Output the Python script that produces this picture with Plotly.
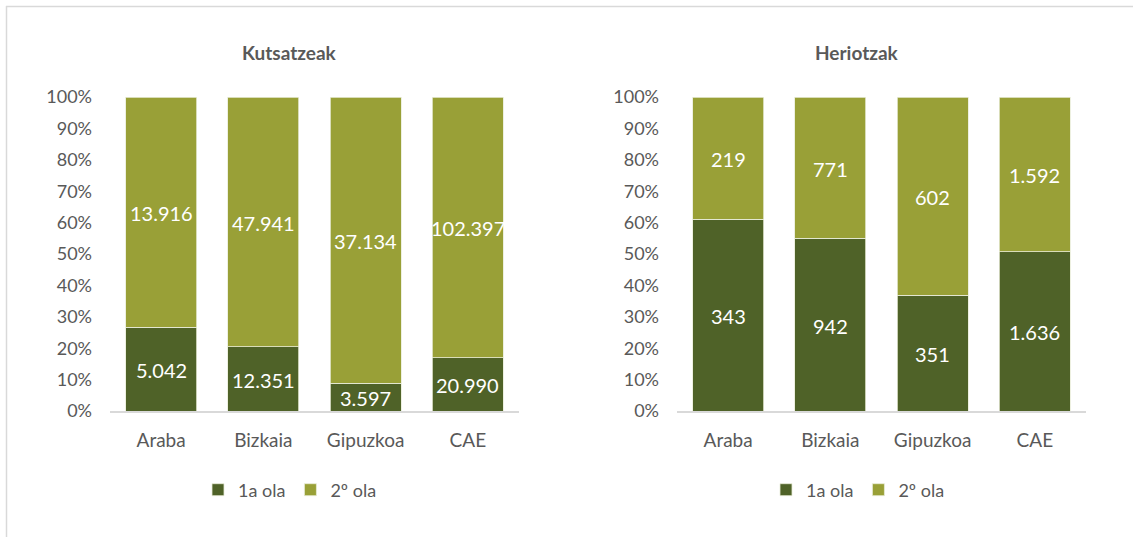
import plotly.graph_objects as go

# Categories and wave values
territories = ["Araba", "Bizkaia", "Gipuzkoa", "CAE"]
cases_wave1 = [5042, 12351, 3597, 20990]
cases_wave2 = [13916, 47941, 37134, 102397]
deaths_wave1 = [343, 942, 351, 1636]
deaths_wave2 = [219, 771, 602, 1592]
series_names = ["1a ola", "2º ola"]
panel_titles = ["Kutsatzeak", "Heriotzak"]
pct_ticks = [0, 10, 20, 30, 40, 50, 60, 70, 80, 90, 100]

W, H = 1133, 537
DARK = "#4F6228"
LIGHT = "#99A037"
GREY_TXT = "#595959"
FONT = "Lato"


def px_x(x):
    return x / W


def px_y(y):
    return 1 - y / H


def fmt(v):
    return f"{v:,}".replace(",", ".")


fig = go.Figure()
annotations = []

panels = [
    (cases_wave1, cases_wave2, "x", "y", "legend"),
    (deaths_wave1, deaths_wave2, "x2", "y2", "legend2"),
]

for w1, w2, xa, ya, lg in panels:
    tot = [a + b for a, b in zip(w1, w2)]
    p1 = [100 * a / t for a, t in zip(w1, tot)]
    p2 = [100 * b / t for b, t in zip(w2, tot)]
    fig.add_trace(go.Bar(x=territories, y=p1, name=series_names[0],
                         marker=dict(color=DARK, line=dict(color="#e8ecd8", width=0.8)),
                         xaxis=xa, yaxis=ya, legend=lg, hoverinfo="skip"))
    fig.add_trace(go.Bar(x=territories, y=p2, name=series_names[1],
                         marker=dict(color=LIGHT, line=dict(color="#e8ecd8", width=0.8)),
                         xaxis=xa, yaxis=ya, legend=lg, hoverinfo="skip"))
    # value labels centred in each segment
    for cat, a, pa, pb, b in zip(territories, w1, p1, p2, w2):
        for val, ymid in ((a, pa / 2), (b, pa + pb / 2)):
            annotations.append(dict(text=fmt(val), x=cat, y=ymid, xref=xa, yref=ya,
                                    xanchor="center", yanchor="middle", yshift=-1, showarrow=False,
                                    font=dict(family=FONT, size=20, color="white")))

yaxis_common = dict(range=[0, 100], tickmode="array", tickvals=pct_ticks,
                    ticktext=[f"{v}%" for v in pct_ticks], showgrid=False, zeroline=False,
                    showline=False, ticks="", tickfont=dict(family=FONT, size=18, color=GREY_TXT),
                    ticklabelstandoff=17, fixedrange=True, automargin=False)
xaxis_common = dict(showgrid=False, zeroline=False, showline=True, linecolor="#d9d9d9", linewidth=1.5,
                    ticks="", tickfont=dict(family=FONT, size=19, color=GREY_TXT), ticklabelstandoff=11,
                    fixedrange=True, automargin=False)

legend_common = dict(orientation="h", xanchor="center", yanchor="middle",
                     font=dict(family=FONT, size=18, color=GREY_TXT),
                     bgcolor="rgba(0,0,0,0)", itemwidth=30, traceorder="normal")

annotations += [
    dict(text=f"<b>{panel_titles[0]}</b>", x=px_x(289), y=px_y(52), xref="paper", yref="paper",
         xanchor="center", yanchor="middle", showarrow=False,
         font=dict(family=FONT, size=19, color=GREY_TXT)),
    dict(text=f"<b>{panel_titles[1]}</b>", x=px_x(857), y=px_y(52), xref="paper", yref="paper",
         xanchor="center", yanchor="middle", showarrow=False,
         font=dict(family=FONT, size=19, color=GREY_TXT)),
]

fig.update_layout(
    width=W, height=H, margin=dict(l=0, r=0, t=0, b=0, pad=0, autoexpand=False),
    paper_bgcolor="white", plot_bgcolor="white",
    barmode="stack", bargap=0.305,
    xaxis=dict(domain=[px_x(110), px_x(519)], anchor="y", **xaxis_common),
    yaxis=dict(domain=[px_y(411), px_y(97)], anchor="x", **yaxis_common),
    xaxis2=dict(domain=[px_x(677), px_x(1086)], anchor="y2", **xaxis_common),
    yaxis2=dict(domain=[px_y(411), px_y(97)], anchor="x2", **yaxis_common),
    legend=dict(x=px_x(290), y=px_y(490), **legend_common),
    legend2=dict(x=px_x(858), y=px_y(490), **legend_common),
    annotations=annotations,
    shapes=[
        dict(type="line", xref="paper", yref="paper", x0=px_x(6), x1=1.0, y0=px_y(6.5), y1=px_y(6.5),
             line=dict(color="#d9d9d9", width=1.5)),
        dict(type="line", xref="paper", yref="paper", x0=px_x(6.5), x1=px_x(6.5), y0=0, y1=px_y(6),
             line=dict(color="#d9d9d9", width=1.5)),
    ],
)

fig.write_html("out.html")
